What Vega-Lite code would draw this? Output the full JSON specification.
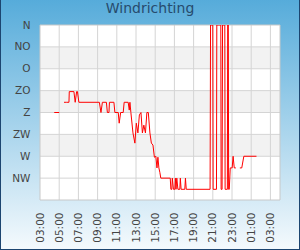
{
  "$schema": "https://vega.github.io/schema/vega-lite/v6.json",
  "autosize": "none",
  "width": 240,
  "height": 175,
  "padding": {"left": 40, "top": 25, "right": 20, "bottom": 50},
  "data": {"values": [{}]},
  "config": {
    "view": {"stroke": null},
    "font": "DejaVu Sans",
    "axis": {"labelOverlap": false, "labelBound": false, "labelSeparation": 0}
  },
  "title": {"text": "Windrichting", "font": "DejaVu Sans", "fontSize": 14, "fontWeight": "normal", "color": "#274b6d", "anchor": "middle", "frame": "group", "dx": -10, "offset": 0, "baseline": "alphabetic", "dy": 30},
  "layer": [
    {
      "mark": {"type": "rect", "fill": {"gradient": "linear", "x1": 0, "y1": 0, "x2": 0, "y2": 1, "stops": [{"offset": 0, "color": "#55abda"}, {"offset": 1, "color": "#f5fafd"}]}, "stroke": "#1c4570", "strokeWidth": 2},
      "encoding": {
        "x": {"datum": {"year": 2024, "month": 7, "date": 9, "hours": 22, "minutes": 50}, "type": "temporal", "scale": {"domain": [{"year": 2024, "month": 7, "date": 10, "hours": 3}, {"year": 2024, "month": 7, "date": 11, "hours": 4}]},
          "axis": {"title": null, "grid": false, "ticks": false, "domain": false, "zindex": 1, "tickCount": 100, "labelOverlap": false, "labelAngle": -90, "labelPadding": 12, "labelFont": "DejaVu Sans", "labelFontSize": 10.5, "labelColor": "#444444", "format": "%H:%M", "values": [
            {"year": 2024, "month": 7, "date": 10, "hours": 3}, {"year": 2024, "month": 7, "date": 10, "hours": 5}, {"year": 2024, "month": 7, "date": 10, "hours": 7}, {"year": 2024, "month": 7, "date": 10, "hours": 9}, {"year": 2024, "month": 7, "date": 10, "hours": 11}, {"year": 2024, "month": 7, "date": 10, "hours": 13}, {"year": 2024, "month": 7, "date": 10, "hours": 15}, {"year": 2024, "month": 7, "date": 10, "hours": 17}, {"year": 2024, "month": 7, "date": 10, "hours": 19}, {"year": 2024, "month": 7, "date": 10, "hours": 21}, {"year": 2024, "month": 7, "date": 10, "hours": 23}, {"year": 2024, "month": 7, "date": 11, "hours": 1}, {"year": 2024, "month": 7, "date": 11, "hours": 3}]}},
        "x2": {"datum": {"year": 2024, "month": 7, "date": 11, "hours": 6, "minutes": 5}},
        "y": {"datum": -55, "type": "quantitative", "scale": {"domain": [0, 360], "reverse": true, "nice": false, "zero": false},
          "axis": {"title": null, "grid": false, "ticks": false, "domain": false, "zindex": 1, "tickCount": 100, "labelOverlap": false, "labelPadding": 10, "labelFont": "DejaVu Sans", "labelFontSize": 10.5, "labelColor": "#444444", "values": [0, 45, 90, 135, 180, 225, 270, 315], "labelExpr": "['N','NO','O','ZO','Z','ZW','W','NW'][round(datum.value/45)]"}},
        "y2": {"datum": 463}
      }
    },
    {
      "mark": {"type": "rect", "fill": "#ffffff"},
      "encoding": {
        "x": {"datum": {"year": 2024, "month": 7, "date": 10, "hours": 3}, "type": "temporal"},
        "x2": {"datum": {"year": 2024, "month": 7, "date": 11, "hours": 4}},
        "y": {"datum": 0, "type": "quantitative"},
        "y2": {"datum": 360}
      }
    },
    {
      "data": {"values": [{"lo": 45, "hi": 90}, {"lo": 135, "hi": 180}, {"lo": 225, "hi": 270}]},
      "mark": {"type": "rect", "fill": "#f2f2f2"},
      "encoding": {
        "x": {"datum": {"year": 2024, "month": 7, "date": 10, "hours": 3}, "type": "temporal"},
        "x2": {"datum": {"year": 2024, "month": 7, "date": 11, "hours": 4}},
        "y": {"field": "lo", "type": "quantitative"},
        "y2": {"field": "hi"}
      }
    },
    {
      "data": {"values": [{"d": 45}, {"d": 90}, {"d": 135}, {"d": 180}, {"d": 225}, {"d": 270}, {"d": 315}]},
      "mark": {"type": "rule", "color": "#d4d4d4", "strokeWidth": 1},
      "encoding": {
        "y": {"field": "d", "type": "quantitative"}
      }
    },
    {
      "data": {"values": [{"g": "2024-07-10T05:00:00"}, {"g": "2024-07-10T07:00:00"}, {"g": "2024-07-10T09:00:00"}, {"g": "2024-07-10T11:00:00"}, {"g": "2024-07-10T13:00:00"}, {"g": "2024-07-10T15:00:00"}, {"g": "2024-07-10T17:00:00"}, {"g": "2024-07-10T19:00:00"}, {"g": "2024-07-10T21:00:00"}, {"g": "2024-07-10T23:00:00"}, {"g": "2024-07-11T01:00:00"}, {"g": "2024-07-11T03:00:00"}]},
      "mark": {"type": "rule", "color": "#d4d4d4", "strokeWidth": 1},
      "encoding": {
        "x": {"field": "g", "type": "temporal"}
      }
    },
    {
      "mark": {"type": "rect", "fill": null, "fillOpacity": 0, "stroke": "#c8c8c8", "strokeWidth": 1},
      "encoding": {
        "x": {"datum": {"year": 2024, "month": 7, "date": 10, "hours": 3}, "type": "temporal"},
        "x2": {"datum": {"year": 2024, "month": 7, "date": 11, "hours": 4}},
        "y": {"datum": 0, "type": "quantitative"},
        "y2": {"datum": 360}
      }
    },
    {
      "data": {"values": [
        {"t": "2024-07-10T04:29:00", "v": 180},
        {"t": "2024-07-10T05:00:00", "v": 180},
        {"t": "2024-07-10T05:15:00", "v": null},
        {"t": "2024-07-10T05:30:00", "v": 159},
        {"t": "2024-07-10T05:47:00", "v": 159},
        {"t": "2024-07-10T06:01:00", "v": 159},
        {"t": "2024-07-10T06:03:00", "v": 137},
        {"t": "2024-07-10T06:32:00", "v": 137},
        {"t": "2024-07-10T06:40:00", "v": 159},
        {"t": "2024-07-10T06:49:00", "v": 137},
        {"t": "2024-07-10T06:54:00", "v": 137},
        {"t": "2024-07-10T07:03:00", "v": 159},
        {"t": "2024-07-10T09:11:00", "v": 159},
        {"t": "2024-07-10T09:21:00", "v": 180},
        {"t": "2024-07-10T09:30:00", "v": 159},
        {"t": "2024-07-10T09:55:00", "v": 159},
        {"t": "2024-07-10T10:01:00", "v": 180},
        {"t": "2024-07-10T10:11:00", "v": 180},
        {"t": "2024-07-10T10:14:00", "v": 159},
        {"t": "2024-07-10T10:42:00", "v": 159},
        {"t": "2024-07-10T10:48:00", "v": 180},
        {"t": "2024-07-10T11:09:00", "v": 180},
        {"t": "2024-07-10T11:15:00", "v": 202},
        {"t": "2024-07-10T11:24:00", "v": 180},
        {"t": "2024-07-10T11:40:00", "v": 180},
        {"t": "2024-07-10T11:46:00", "v": 159},
        {"t": "2024-07-10T12:11:00", "v": 159},
        {"t": "2024-07-10T12:18:00", "v": 175},
        {"t": "2024-07-10T12:22:00", "v": 159},
        {"t": "2024-07-10T12:28:00", "v": 180},
        {"t": "2024-07-10T12:41:00", "v": 222},
        {"t": "2024-07-10T12:53:00", "v": 243},
        {"t": "2024-07-10T13:02:00", "v": 202},
        {"t": "2024-07-10T13:12:00", "v": 222},
        {"t": "2024-07-10T13:21:00", "v": 185},
        {"t": "2024-07-10T13:31:00", "v": 180},
        {"t": "2024-07-10T13:40:00", "v": 222},
        {"t": "2024-07-10T13:49:00", "v": 206},
        {"t": "2024-07-10T13:59:00", "v": 222},
        {"t": "2024-07-10T14:08:00", "v": 180},
        {"t": "2024-07-10T14:17:00", "v": 180},
        {"t": "2024-07-10T14:27:00", "v": 222},
        {"t": "2024-07-10T14:36:00", "v": 243},
        {"t": "2024-07-10T14:46:00", "v": 247},
        {"t": "2024-07-10T14:55:00", "v": 272},
        {"t": "2024-07-10T15:04:00", "v": 270},
        {"t": "2024-07-10T15:11:00", "v": 294},
        {"t": "2024-07-10T15:17:00", "v": 272},
        {"t": "2024-07-10T15:23:00", "v": 294},
        {"t": "2024-07-10T15:29:00", "v": 303},
        {"t": "2024-07-10T15:35:00", "v": 315},
        {"t": "2024-07-10T16:34:00", "v": 315},
        {"t": "2024-07-10T16:38:00", "v": 338},
        {"t": "2024-07-10T16:44:00", "v": 338},
        {"t": "2024-07-10T16:47:00", "v": 315},
        {"t": "2024-07-10T16:54:00", "v": 338},
        {"t": "2024-07-10T17:03:00", "v": 338},
        {"t": "2024-07-10T17:06:00", "v": 315},
        {"t": "2024-07-10T17:10:00", "v": 338},
        {"t": "2024-07-10T17:15:00", "v": 315},
        {"t": "2024-07-10T17:22:00", "v": 338},
        {"t": "2024-07-10T17:34:00", "v": 338},
        {"t": "2024-07-10T17:37:00", "v": 315},
        {"t": "2024-07-10T17:42:00", "v": 338},
        {"t": "2024-07-10T18:05:00", "v": 338},
        {"t": "2024-07-10T18:09:00", "v": 315},
        {"t": "2024-07-10T18:14:00", "v": 338},
        {"t": "2024-07-10T20:43:00", "v": 338},
        {"t": "2024-07-10T20:46:00", "v": 0},
        {"t": "2024-07-10T21:00:00", "v": 0},
        {"t": "2024-07-10T21:02:00", "v": 338},
        {"t": "2024-07-10T21:23:00", "v": 338},
        {"t": "2024-07-10T21:25:00", "v": 0},
        {"t": "2024-07-10T21:50:00", "v": 0},
        {"t": "2024-07-10T21:52:00", "v": 338},
        {"t": "2024-07-10T21:58:00", "v": 338},
        {"t": "2024-07-10T22:01:00", "v": 0},
        {"t": "2024-07-10T22:15:00", "v": 0},
        {"t": "2024-07-10T22:17:00", "v": 338},
        {"t": "2024-07-10T22:31:00", "v": 338},
        {"t": "2024-07-10T22:33:00", "v": 0},
        {"t": "2024-07-10T22:37:00", "v": 0},
        {"t": "2024-07-10T22:39:00", "v": 338},
        {"t": "2024-07-10T22:43:00", "v": 338},
        {"t": "2024-07-10T22:49:00", "v": 294},
        {"t": "2024-07-10T23:01:00", "v": 294},
        {"t": "2024-07-10T23:07:00", "v": 270},
        {"t": "2024-07-10T23:14:00", "v": 294},
        {"t": "2024-07-10T23:24:00", "v": 294},
        {"t": "2024-07-10T23:35:00", "v": null},
        {"t": "2024-07-10T23:49:00", "v": 294},
        {"t": "2024-07-11T00:01:00", "v": 294},
        {"t": "2024-07-11T00:14:00", "v": 270},
        {"t": "2024-07-11T01:33:00", "v": 270}
      ]},
      "mark": {"type": "line", "color": "#ff0000", "strokeWidth": 1, "clip": true, "interpolate": "linear"},
      "encoding": {
        "x": {"field": "t", "type": "temporal"},
        "y": {"field": "v", "type": "quantitative"}
      }
    }
  ]
}
